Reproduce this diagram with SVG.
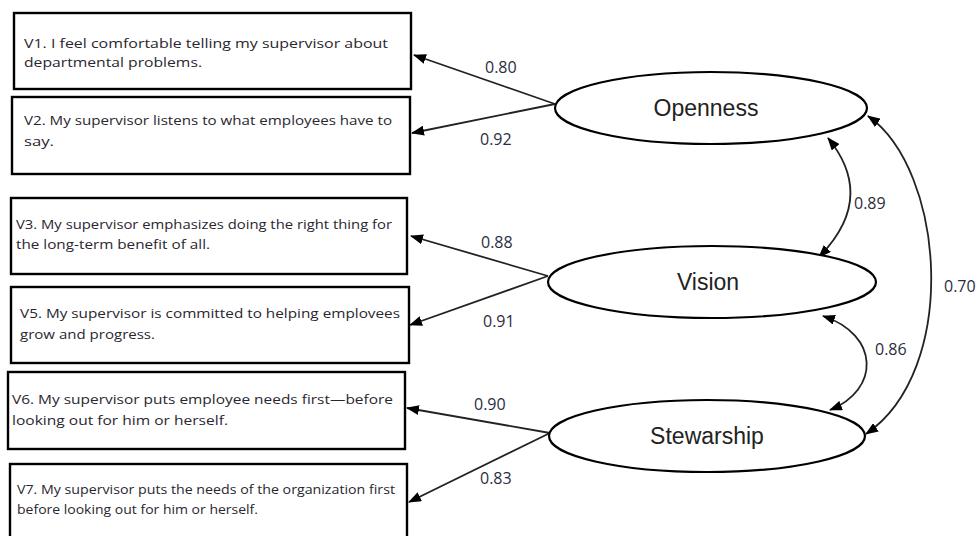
<svg xmlns="http://www.w3.org/2000/svg" width="980" height="536" viewBox="0 0 980 536">
<style>
.box{fill:#fff;stroke:#000;stroke-width:2.4}
.item{font-family:"Open Sans","Liberation Sans",sans-serif;font-size:13.5px;fill:#2a2630}
.lat{fill:#fff;stroke:#000;stroke-width:2.2}
.latt{font-family:"Liberation Sans",Arial,sans-serif;font-size:23px;fill:#222;text-anchor:middle}
.num{font-family:"Open Sans","Liberation Sans",sans-serif;font-size:16px;fill:#2b2d40}
.ln{fill:none;stroke:#222;stroke-width:1.8}
</style>
<defs>
<marker id="ah" viewBox="0 0 13 10" refX="12" refY="5" markerWidth="13" markerHeight="10" markerUnits="userSpaceOnUse" orient="auto-start-reverse">
<path d="M0,0 L13,5 L0,10 z" fill="#000"/>
</marker>
</defs>
<rect width="980" height="536" fill="#fff"/>
<g id="connectors">
<line class="ln" x1="555" y1="104" x2="414" y2="55" marker-end="url(#ah)"/>
<line class="ln" x1="555" y1="104" x2="412" y2="133" marker-end="url(#ah)"/>
<line class="ln" x1="548" y1="276" x2="411" y2="236" marker-end="url(#ah)"/>
<line class="ln" x1="548" y1="276" x2="410" y2="325" marker-end="url(#ah)"/>
<line class="ln" x1="550" y1="433" x2="407" y2="408" marker-end="url(#ah)"/>
<line class="ln" x1="550" y1="433" x2="409" y2="502" marker-end="url(#ah)"/>
<path class="ln" d="M828 138 Q877 198 819 257" marker-start="url(#ah)" marker-end="url(#ah)"/>
<path class="ln" d="M823 316 C880 335 880 390 830 410" marker-start="url(#ah)" marker-end="url(#ah)"/>
<path class="ln" d="M868 116 C945 170 960 370 866 434" marker-start="url(#ah)" marker-end="url(#ah)"/>
<text class="num" x="485" y="73">0.80</text>
<text class="num" x="480" y="145">0.92</text>
<text class="num" x="481" y="248">0.88</text>
<text class="num" x="483" y="327">0.91</text>
<text class="num" x="474" y="410">0.90</text>
<text class="num" x="480" y="484">0.83</text>
<text class="num" x="854" y="209">0.89</text>
<text class="num" x="875" y="355">0.86</text>
<text class="num" x="944" y="292">0.70</text>
</g>
<g id="v1">
<rect class="box" x="14" y="13" width="397" height="76"/>
<text class="item" x="24" y="48" textLength="364" lengthAdjust="spacingAndGlyphs">V1. I feel comfortable telling my supervisor about</text>
<text class="item" x="24" y="67" textLength="178" lengthAdjust="spacingAndGlyphs">departmental problems.</text>
</g>
<g id="v2">
<rect class="box" x="12" y="97" width="398" height="77"/>
<text class="item" x="24" y="125" textLength="368" lengthAdjust="spacingAndGlyphs">V2. My supervisor listens to what employees have to</text>
<text class="item" x="24" y="146" textLength="30" lengthAdjust="spacingAndGlyphs">say.</text>
</g>
<g id="v3">
<rect class="box" x="11" y="198" width="396" height="76"/>
<text class="item" x="16" y="229" textLength="376" lengthAdjust="spacingAndGlyphs">V3. My supervisor emphasizes doing the right thing for</text>
<text class="item" x="16" y="249" textLength="194" lengthAdjust="spacingAndGlyphs">the long-term benefit of all.</text>
</g>
<g id="v5">
<rect class="box" x="11" y="287" width="398" height="76"/>
<text class="item" x="20" y="318" textLength="380" lengthAdjust="spacingAndGlyphs">V5. My supervisor is committed to helping emplovees</text>
<text class="item" x="20" y="339" textLength="135" lengthAdjust="spacingAndGlyphs">grow and progress.</text>
</g>
<g id="v6">
<rect class="box" x="8" y="372" width="397" height="77"/>
<text class="item" x="12" y="404" textLength="381" lengthAdjust="spacingAndGlyphs">V6. My supervisor puts employee needs first—before</text>
<text class="item" x="12" y="425" textLength="216" lengthAdjust="spacingAndGlyphs">looking out for him or herself.</text>
</g>
<g id="v7">
<rect class="box" x="10" y="464" width="397" height="80"/>
<text class="item" x="17" y="494" textLength="378" lengthAdjust="spacingAndGlyphs">V7. My supervisor puts the needs of the organization first</text>
<text class="item" x="17" y="514" textLength="241" lengthAdjust="spacingAndGlyphs">before looking out for him or herself.</text>
</g>
<g id="openness">
<ellipse class="lat" cx="711" cy="108" rx="156" ry="36"/>
<text class="latt" x="706" y="116">Openness</text>
</g>
<g id="vision">
<ellipse class="lat" cx="712" cy="282" rx="164" ry="36"/>
<text class="latt" x="708" y="290">Vision</text>
</g>
<g id="stewarship">
<ellipse class="lat" cx="707" cy="436" rx="158" ry="36"/>
<text class="latt" x="707" y="444">Stewarship</text>
</g>
</svg>
